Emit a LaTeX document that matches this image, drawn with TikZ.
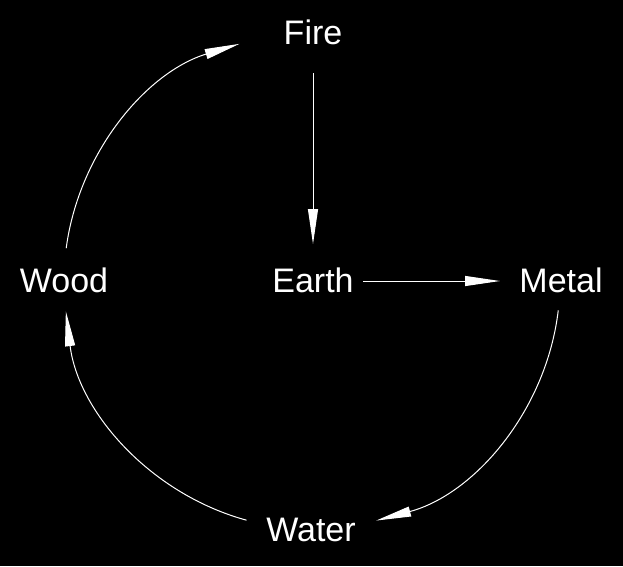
\documentclass[tikz,border=0pt]{standalone}
\usepackage{fontspec}
\setmainfont{Liberation Sans}
\usetikzlibrary{arrows.meta,calc}
\begin{document}
\begin{tikzpicture}[x=1pt,y=-1pt,
  lbl/.style={text=white,anchor=base,inner sep=0pt,font=\fontsize{34}{40}\selectfont},
  conn/.style={draw=white,line width=1pt,-{Triangle[length=35pt,width=10pt]}}]
\fill[black] (0,0) rectangle (623,566);
\useasboundingbox (0,0) rectangle (623,566);
\node[lbl] (fire) at (313,44) {Fire};
\node[lbl] (earth) at (313,292) {Earth};
\node[lbl] (metal) at (561,292) {Metal};
\node[lbl] (wood) at (64,292) {Wood};
\node[lbl] (water) at (311,541) {Water};
\coordinate (C) at (312,281);
\coordinate (fireIn) at (313,73);
\coordinate (earthTop) at (313,244);
\coordinate (earthOut) at (363,281);
\coordinate (metalIn) at (500,281);
\draw[conn] (fireIn) -- (earthTop);
\draw[conn] (earthOut) -- (metalIn);
% arcs on circle centred at C, radius 248 (y axis downward so angles mirror)
\coordinate (woodOut) at ($(C)+(-172.4:248)$);
\coordinate (metalOut) at ($(C)+(6.8:248)$);
\coordinate (waterOut) at ($(C)+(105.3:248)$);
\draw[conn] (woodOut) arc[start angle=-172.4, end angle=-107, radius=248];
\draw[conn] (metalOut) arc[start angle=6.8, end angle=75, radius=248];
\draw[conn] (waterOut) arc[start angle=105.3, end angle=173, radius=248];
\end{tikzpicture}
\end{document}
